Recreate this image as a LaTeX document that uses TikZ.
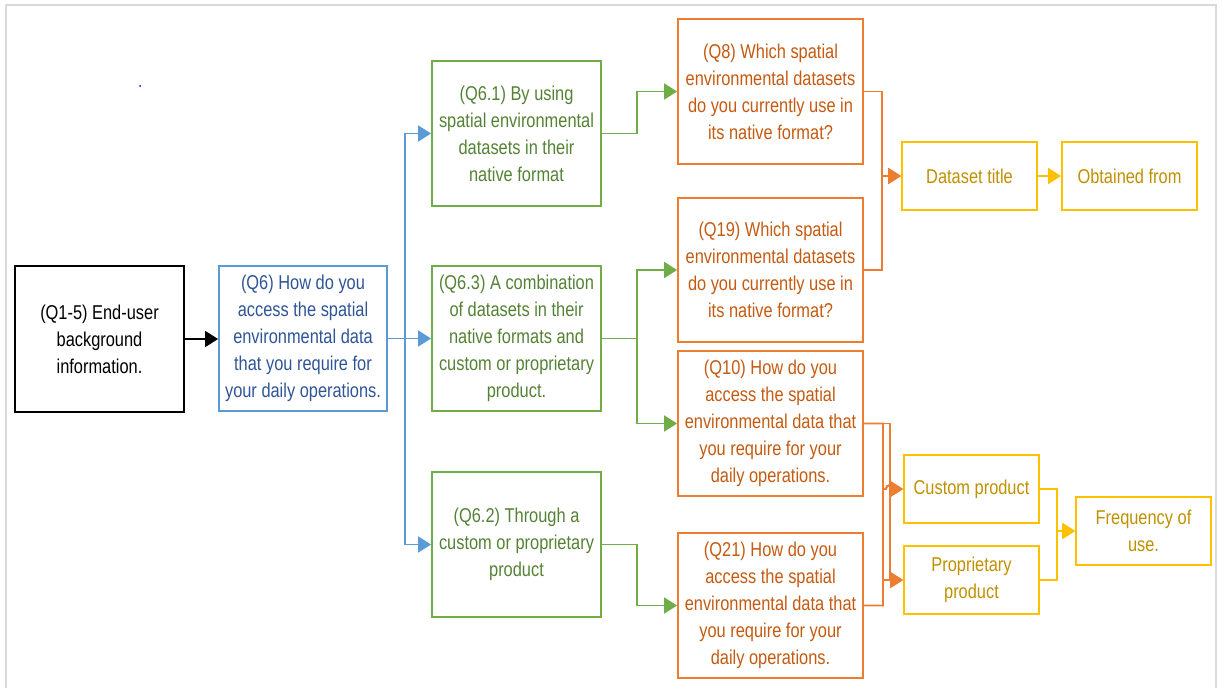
\documentclass[tikz,border=0pt]{standalone}
\usepackage{fontspec}
\setmainfont{Liberation Sans}[FakeStretch=0.82]
\usetikzlibrary{arrows.meta}
\definecolor{frameGray}{RGB}{217,217,217}
\definecolor{blueLine}{RGB}{91,155,213}
\definecolor{blueText}{RGB}{47,85,151}
\definecolor{greenLine}{RGB}{112,173,71}
\definecolor{greenText}{RGB}{84,130,53}
\definecolor{orangeLine}{RGB}{237,125,49}
\definecolor{orangeText}{RGB}{197,90,17}
\definecolor{yellowLine}{RGB}{255,192,0}
\definecolor{yellowText}{RGB}{191,144,0}
\tikzset{
  box/.style={draw, line width=1.8pt, inner sep=0pt, align=center,
    font=\fontsize{20}{27}\selectfont},
  blackbox/.style={box, draw=black, text=black},
  bluebox/.style={box, draw=blueLine, text=blueText},
  greenbox/.style={box, draw=greenLine, text=greenText},
  orangebox/.style={box, draw=orangeLine, text=orangeText},
  yellowbox/.style={box, draw=yellowLine, text=yellowText},
  link/.style={line width=1.8pt, -{Triangle[length=13pt,width=16pt]}},
}
\begin{document}
\begin{tikzpicture}[x=1pt,y=-1pt]
\useasboundingbox (0,0) rectangle (1222,688);
% page frame
\draw[frameGray, line width=2pt] (6,688) -- (6,5) -- (1216,5) -- (1216,688);
\fill[blue] (140,86) circle (1pt);

% first column
\node[blackbox, minimum width=169pt, minimum height=146pt] (bg) at (99.5,339)
  {(Q1-5) End-user\\background\\information.};
\node[bluebox, minimum width=168pt, minimum height=145pt] (q6) at (303,338.5)
  {(Q6) How do you\\access the spatial\\environmental data\\that you require for\\your daily operations.};

% access options
\node[greenbox, minimum width=169pt, minimum height=145pt] (q61) at (516.5,133.5)
  {(Q6.1) By using\\spatial environmental\\datasets in their\\native format};
\node[greenbox, minimum width=169pt, minimum height=145pt] (q63) at (516.5,338.5)
  {(Q6.3) A combination\\of datasets in their\\native formats and\\custom or proprietary\\product.};
\node[greenbox, minimum width=169pt, minimum height=145pt] (q62) at (516.5,544.5)
  {(Q6.2) Through a\\custom or proprietary\\product};

% follow-up questions
\node[orangebox, minimum width=185pt, minimum height=145pt] (q8) at (770.5,91.5)
  {(Q8) Which spatial\\environmental datasets\\do you currently use in\\its native format?};
\node[orangebox, minimum width=185pt, minimum height=144pt] (q19) at (770.5,270)
  {(Q19) Which spatial\\environmental datasets\\do you currently use in\\its native format?};
\node[orangebox, minimum width=185pt, minimum height=145pt] (q10) at (770.5,423.5)
  {(Q10) How do you\\access the spatial\\environmental data that\\you require for your\\daily operations.};
\node[orangebox, minimum width=185pt, minimum height=145pt] (q21) at (770.5,605.5)
  {(Q21) How do you\\access the spatial\\environmental data that\\you require for your\\daily operations.};

% recorded details
\node[yellowbox, minimum width=135pt, minimum height=68pt] (dt) at (969.5,176)
  {Dataset title};
\node[yellowbox, minimum width=135pt, minimum height=68pt] (obt) at (1129.5,176)
  {Obtained from};
\node[yellowbox, minimum width=135pt, minimum height=68pt] (cust) at (971.5,489)
  {Custom product};
\node[yellowbox, minimum width=135pt, minimum height=68pt] (prop) at (971.5,580)
  {Proprietary\\product};
\node[yellowbox, minimum width=135pt, minimum height=68pt] (freq) at (1143.5,531)
  {Frequency of\\use.};

% connectors
\draw[link, black] (bg.east) -- (bg.east -| q6.west);

\draw[link, blueLine] (q6.east) -- ++(17,0) |- (q61.west);
\draw[link, blueLine] (q6.east) -- (q63.west);
\draw[link, blueLine] (q6.east) -- ++(17,0) |- (q62.west);

\draw[link, greenLine] (q61.east) -- ++(35,0) |- (q8.west);
\draw[link, greenLine] (q63.east) -- ++(35,0) |- (q19.west);
\draw[link, greenLine] (q63.east) -- ++(35,0) |- (q10.west);
\draw[link, greenLine] (q62.east) -- ++(35,0) |- (q21.west);

\draw[link, orangeLine] (q8.east) -- ++(18,0) |- (dt.west);
\draw[link, orangeLine] (q19.east) -- ++(18,0) |- (dt.west);

\draw[link, orangeLine] (q10.east) -- ++(26,0) |- (prop.west);
\draw[link, orangeLine] (q21.east) -- ++(19,0) |- (prop.west);
\draw[link, orangeLine] (q10.east) -- ++(19,0) coordinate (ja) -- (ja |- cust.west)
  -- ++(3,0) arc[start angle=180, end angle=0, radius=4pt] -- (cust.west);
\draw[link, orangeLine] (q21.east) -- ++(19,0) coordinate (jb) -- (jb |- cust.west)
  -- ++(3,0) arc[start angle=180, end angle=0, radius=4pt] -- (cust.west);

\draw[link, yellowLine] (dt.east) -- (obt.west);
\draw[link, yellowLine] (cust.east) -- ++(17,0) |- (freq.west);
\draw[link, yellowLine] (prop.east) -- ++(17,0) |- (freq.west);
\end{tikzpicture}
\end{document}
